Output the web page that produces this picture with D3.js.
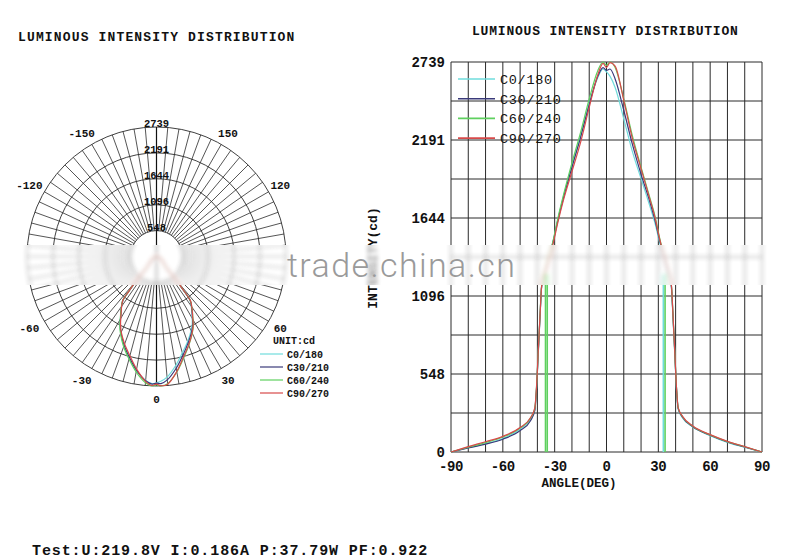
<!DOCTYPE html>
<html><head><meta charset="utf-8">
<script src="https://cdn.jsdelivr.net/npm/d3@7"></script>
<style>body{margin:0;background:#fff} svg{display:block}</style>
</head><body>
<svg id="c" width="800" height="559"></svg>
<script>
// ---------------- data ----------------
const angles = [-90,-80,-70,-60,-50,-44,-41.5,-40.5,-39.5,-38.5,-37.5,-35,-33,-31,-28,-25,-20,-15,-10,-5,-2,0,2,5,10,15,20,25,28,31,33,35,37.5,38.5,39.5,40.5,41.5,44,50,60,70,80,90];
const c0_180  = [0,30,58,95,160,232,300,450,700,950,1170,1290,1380,1475,1640,1790,2010,2220,2450,2630,2690,2670,2640,2560,2340,2110,1920,1730,1610,1460,1370,1280,1160,940,690,440,300,240,175,115,68,33,0];
const c30_210 = [0,28,55,90,150,220,290,440,690,945,1165,1285,1375,1470,1635,1780,2000,2210,2440,2640,2700,2680,2690,2620,2400,2160,1950,1760,1630,1475,1380,1290,1170,950,700,450,305,245,178,118,70,35,0];
const c60_240 = [0,34,66,105,168,238,305,455,705,955,1175,1295,1385,1480,1650,1800,2030,2245,2480,2680,2739,2715,2739,2700,2480,2220,2000,1790,1660,1490,1395,1300,1180,960,710,455,310,248,180,120,73,37,0];
const c90_270 = [0,38,72,110,172,240,310,460,710,955,1170,1285,1370,1460,1620,1765,1970,2175,2420,2650,2730,2700,2735,2710,2470,2200,1990,1780,1650,1485,1390,1300,1180,960,710,455,310,250,182,122,75,38,0];
const seriesNames = ["C0/180","C30/210","C60/240","C90/270"];
const seriesColors = ["#6fdcdc","#3a3a7a","#5fd05f","#d84a4a"];
// vertical artefact lines seen in the cartesian plot
const glitchSeries = ["C60/240","C60/240","C0/180","C60/240"];
const glitchAngles = [-35.3,-34.3,32.9,33.9];
const glitchTops = [1250,1250,1250,1250];

const maxI = 2739;
const yTickValues = [0,548,1096,1644,2191,2739];
const yTickLabels = ["0","548","1096","1644","2191","2739"];
const xTickValues = [-90,-60,-30,0,30,60,90];
const polarRingValues = [548,1096,1644,2191,2739];
const polarRingLabels = ["548","1096","1644","2191","2739"];
const polarAngleLabels = [-150,-120,-60,-30,0,30,60,120,150];

const titleText = "LUMINOUS INTENSITY DISTRIBUTION";
const testText = "Test:U:219.8V I:0.186A P:37.79W PF:0.922";
const watermarkText = "trade.china.cn";

const series = seriesNames.map((n,i)=>({name:n,color:seriesColors[i],
  values:[c0_180,c30_210,c60_240,c90_270][i].map((v,j)=>({a:angles[j],v:v}))}));
const glitches = glitchAngles.map((a,i)=>({a:a,top:glitchTops[i],
  color:seriesColors[seriesNames.indexOf(glitchSeries[i])]}));

const svg = d3.select("#c");
const defs = svg.append("defs");
defs.append("filter").attr("id","blur").attr("x","-5%").attr("y","-5%").attr("width","110%").attr("height","110%")
  .append("feGaussianBlur").attr("stdDeviation",2.2);
defs.append("clipPath").attr("id","band").append("rect")
  .attr("x",16).attr("y",245).attr("width",776).attr("height",40);

const root = svg.append("g").attr("id","chart");
const MONO = "'Liberation Mono','DejaVu Sans Mono',monospace";
const grid = "#2a2a2a";

// ---------------- titles ----------------
root.append("text").attr("x",18).attr("y",41).text(titleText)
  .attr("font-family",MONO).attr("font-weight","bold").attr("font-size",13)
  .attr("letter-spacing",1.15).attr("fill","#111");
root.append("text").attr("x",472).attr("y",35).text(titleText)
  .attr("font-family",MONO).attr("font-weight","bold").attr("font-size",13)
  .attr("letter-spacing",0.8).attr("fill","#111");
root.append("text").attr("x",32).attr("y",555).text(testText)
  .attr("font-family",MONO).attr("font-weight","bold").attr("font-size",15)
  .attr("letter-spacing",0.9).attr("fill","#111");

// ---------------- polar chart ----------------
const cx = 156.5, cy = 256.5, R = 129.5;
const r = d3.scaleLinear().domain([0,maxI]).range([0,R]);
const pg = root.append("g").attr("transform",`translate(${cx},${cy})`);
const spokes = d3.range(0,360,5);
pg.selectAll("line.spoke").data(spokes).join("line")
  .attr("x1",d=>r(polarRingValues[0])*Math.sin(d*Math.PI/180))
  .attr("y1",d=>r(polarRingValues[0])*Math.cos(d*Math.PI/180))
  .attr("x2",d=>R*Math.sin(d*Math.PI/180))
  .attr("y2",d=>R*Math.cos(d*Math.PI/180))
  .attr("stroke",grid).attr("stroke-width",0.8);
pg.selectAll("circle.ring").data(polarRingValues).join("circle")
  .attr("r",d=>r(d)).attr("fill","none").attr("stroke",grid).attr("stroke-width",0.9);
pg.append("line").attr("x1",0).attr("x2",0).attr("y1",-R).attr("y2",R)
  .attr("stroke","#111").attr("stroke-width",1.2);
pg.selectAll("text.ring").data(polarRingValues).join("text")
  .attr("x",0).attr("y",d=>-r(d)).attr("text-anchor","middle")
  .text((d,i)=>polarRingLabels[i])
  .attr("font-family",MONO).attr("font-weight","bold").attr("font-size",10.5).attr("fill","#111");
const labR = 143;
pg.selectAll("text.ang").data(polarAngleLabels).join("text")
  .attr("x",d=>labR*Math.sin(d*Math.PI/180) - (d<0?3.3:0))
  .attr("y",d=>labR*Math.cos(d*Math.PI/180))
  .attr("dy","0.35em").attr("text-anchor","middle").text(d=>d<0?"-"+(-d):String(d))
  .attr("font-family",MONO).attr("font-weight","bold").attr("font-size",11).attr("fill","#111");
const radial = d3.lineRadial().angle(d=>Math.PI - d.a*Math.PI/180).radius(d=>r(d.v))
  .curve(d3.curveCatmullRom);
pg.selectAll("path.ser").data(series).join("path")
  .attr("d",d=>radial(d.values)).attr("fill","none")
  .attr("stroke",d=>d.color).attr("stroke-width",1.2);

// polar legend
root.append("text").attr("x",273).attr("y",344).text("UNIT:cd")
  .attr("font-family",MONO).attr("font-weight","bold").attr("font-size",10).attr("fill","#111");
const pl = root.append("g").selectAll("g").data(series).join("g")
  .attr("transform",(d,i)=>`translate(0,${354+i*13})`);
pl.append("line").attr("x1",260).attr("x2",283).attr("stroke",d=>d.color).attr("stroke-width",1.2);
pl.append("text").attr("x",287).attr("y",3.5).text(d=>d.name)
  .attr("font-family",MONO).attr("font-weight","bold").attr("font-size",10).attr("fill","#111");

// ---------------- cartesian chart ----------------
const x = d3.scaleLinear().domain([-90,90]).range([451,762]);
const y = d3.scaleLinear().domain([0,maxI]).range([452,62]);
const cg = root.append("g");
cg.selectAll("line.vg").data(d3.range(-90,91,10)).join("line")
  .attr("x1",d=>x(d)).attr("x2",d=>x(d)).attr("y1",y(0)).attr("y2",y(maxI))
  .attr("stroke",grid).attr("stroke-width",1);
cg.selectAll("line.hg").data(d3.range(0,11).map(k=>k*maxI/10)).join("line")
  .attr("x1",x(-90)).attr("x2",x(90)).attr("y1",d=>y(d)).attr("y2",d=>y(d))
  .attr("stroke",grid).attr("stroke-width",1);
cg.selectAll("text.yt").data(yTickValues).join("text")
  .attr("x",x(-90)-6).attr("y",d=>y(d)).attr("dy","0.35em").attr("text-anchor","end")
  .text((d,i)=>yTickLabels[i])
  .attr("font-family",MONO).attr("font-weight","bold").attr("font-size",14).attr("fill","#111");
cg.selectAll("text.xt").data(xTickValues).join("text")
  .attr("x",d=>x(d)).attr("y",471).attr("text-anchor","middle").text(d=>String(d))
  .attr("font-family",MONO).attr("font-weight","bold").attr("font-size",14).attr("letter-spacing",-0.4).attr("fill","#111");
cg.append("text").attr("x",579).attr("y",487).attr("text-anchor","middle").text("ANGLE(DEG)")
  .attr("font-family",MONO).attr("font-weight","bold").attr("font-size",12.5).attr("fill","#111");
cg.append("text").attr("transform","translate(377,258) rotate(-90)").attr("text-anchor","middle")
  .text("INTENSITY(cd)")
  .attr("font-family",MONO).attr("font-weight","bold").attr("font-size",13).attr("fill","#111");

cg.selectAll("line.gl").data(glitches).join("line")
  .attr("x1",d=>x(d.a)).attr("x2",d=>x(d.a)).attr("y1",y(0)).attr("y2",d=>y(d.top))
  .attr("stroke",d=>d.color).attr("stroke-width",1.6);
const line = d3.line().x(d=>x(d.a)).y(d=>y(d.v)).curve(d3.curveMonotoneX);
cg.selectAll("path.ser").data(series).join("path")
  .attr("d",d=>line(d.values)).attr("fill","none")
  .attr("stroke",d=>d.color).attr("stroke-width",1.2);

// legend inside plot
const cl = cg.append("g").selectAll("g").data(series).join("g")
  .attr("transform",(d,i)=>`translate(0,${79+i*19.7})`);
cl.append("line").attr("x1",458).attr("x2",495).attr("stroke",d=>d.color).attr("stroke-width",1.6);
cl.append("text").attr("x",500).attr("y",5).text(d=>d.name)
  .attr("font-family",MONO).attr("font-size",13.5).attr("letter-spacing",0.7).attr("fill","#111");

// ---------------- watermark band (blurred strip) ----------------
svg.append("rect").attr("x",16).attr("y",245).attr("width",776).attr("height",40).attr("fill","#fff");
svg.append("use").attr("href","#chart").attr("clip-path","url(#band)")
  .attr("filter","url(#blur)").attr("opacity",0.45);
svg.append("text").attr("x",287).attr("y",277).text(watermarkText)
  .attr("font-family","Roboto, 'Liberation Sans', sans-serif").attr("font-weight",300)
  .attr("font-size",34).attr("letter-spacing",1.4).attr("fill","#9a9a9a");
</script>
</body></html>
